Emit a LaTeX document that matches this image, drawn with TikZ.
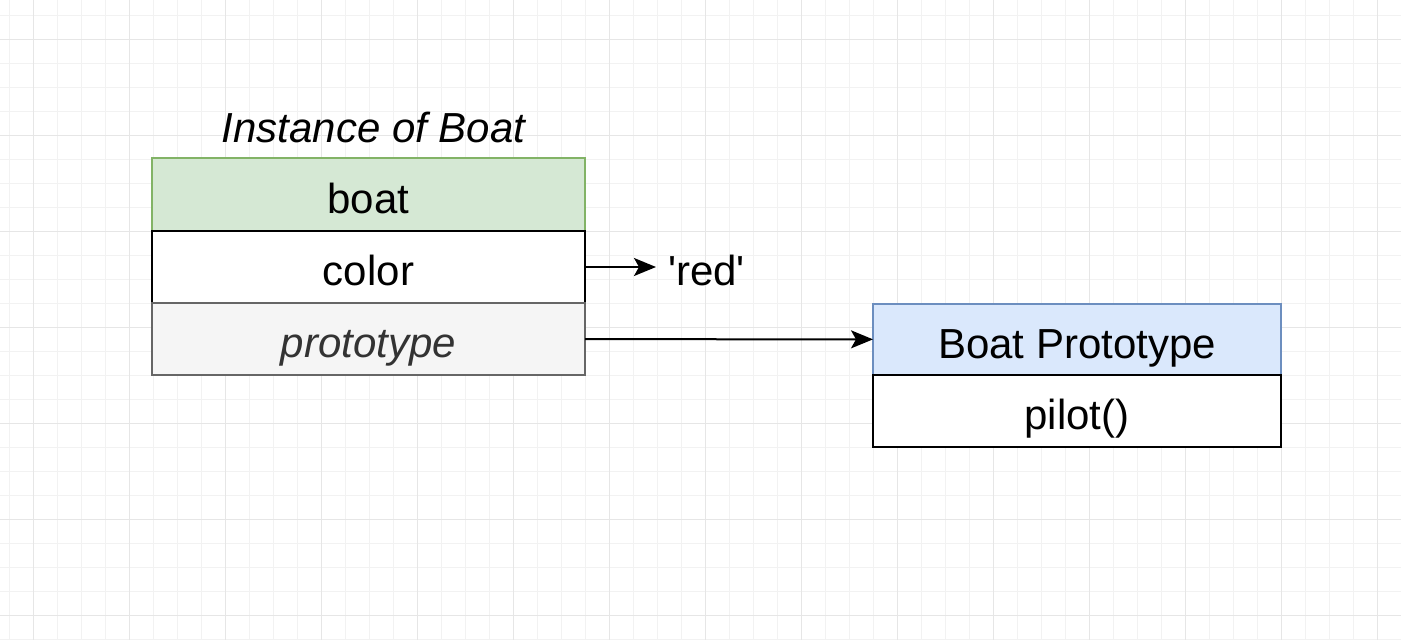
\documentclass[tikz,border=0pt]{standalone}
\usepackage{fontspec}
\setmainfont{Liberation Sans}
\usetikzlibrary{positioning,arrows.meta}
\definecolor{gridminor}{HTML}{F2F2F2}
\definecolor{gridmajor}{HTML}{E6E6E6}
\definecolor{greenfill}{HTML}{D5E8D4}
\definecolor{greenline}{HTML}{82B366}
\definecolor{grayfill}{HTML}{F5F5F5}
\definecolor{grayline}{HTML}{666666}
\definecolor{graytext}{HTML}{333333}
\definecolor{bluefill}{HTML}{DAE8FC}
\definecolor{blueline}{HTML}{6C8EBF}
\begin{document}
\begin{tikzpicture}[x=1pt, y=-1pt]
\tikzstyle{every node} = [font=\fontsize{42}{50}\selectfont, inner sep=0pt, outer sep=0pt, text height=37pt, text depth=0pt]
\tikzstyle{field} = [rectangle, draw=black, line width=2pt, fill=white, minimum height=72pt]
\tikzstyle{arrow} = [-{Stealth[length=22pt, width=18pt, inset=5pt]}, line width=2pt]
\useasboundingbox (0,0) rectangle (1401,640);
\fill[white] (0,0) rectangle (1401,640);
% grid
\foreach \x in {9,33,...,1401} \draw[gridminor, line width=1pt] (\x,0) -- (\x,640);
\foreach \y in {15,39,...,640} \draw[gridminor, line width=1pt] (0,\y) -- (1401,\y);
\foreach \x in {33,129,...,1401} \draw[gridmajor, line width=1pt] (\x,0) -- (\x,640);
\foreach \y in {39,135,...,640} \draw[gridmajor, line width=1pt] (0,\y) -- (1401,\y);
% instance of boat
\node[field, minimum width=433pt, minimum height=73pt, draw=greenline, fill=greenfill] (boat) at (368.5,194.5) {boat};
\node[field, minimum width=433pt, below=0pt of boat] (color) {color};
\node[field, minimum width=433pt, below=0pt of color, draw=grayline, fill=grayfill, text=graytext, font=\fontsize{42}{50}\selectfont\itshape] (prototype) {prototype};
\node[above=16pt of boat, xshift=5pt, font=\fontsize{42}{50}\selectfont\itshape] (title) {Instance of Boat};
\node[right=71pt of color, inner xsep=12pt] (red) {\textquotesingle red\textquotesingle};
% boat prototype
\node[field, minimum width=408pt, minimum height=71pt, draw=blueline, fill=bluefill] (bproto) at (1077,339.5) {Boat Prototype};
\node[field, minimum width=408pt, below=0pt of bproto] (pilot) {pilot()};
\foreach \from/\to in {color/red, prototype/bproto}
\draw[arrow] (\from) -- (\to);
\end{tikzpicture}
\end{document}
